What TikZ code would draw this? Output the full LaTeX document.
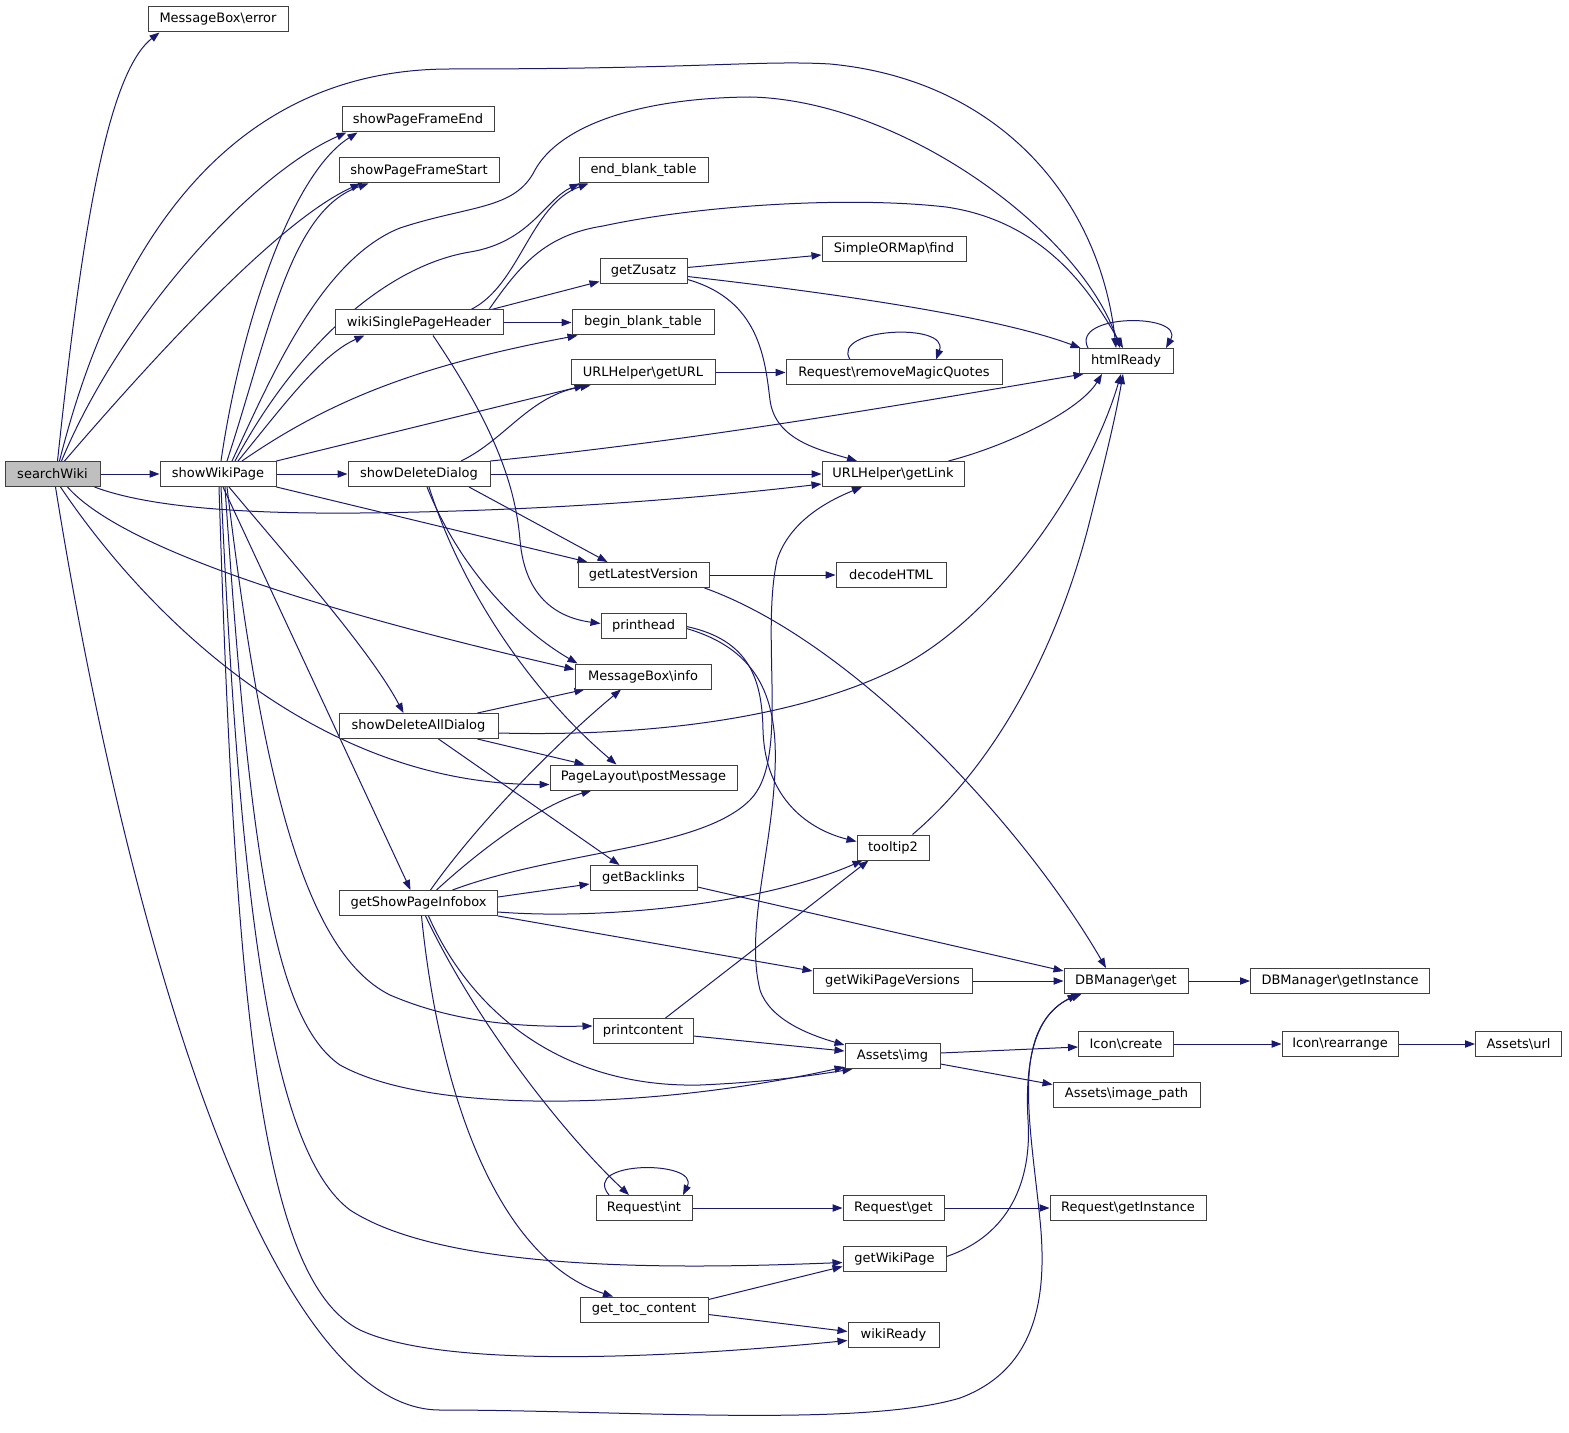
\documentclass[tikz,border=0pt]{standalone}
\usepackage{fontspec}
\setmainfont{DejaVu Sans}
\usetikzlibrary{arrows.meta,calc}
\definecolor{edgec}{HTML}{191970}
\definecolor{boxc}{HTML}{404040}
\definecolor{hlc}{HTML}{BFBFBF}
\pgfdeclarelayer{background}
\pgfsetlayers{background,main}
\begin{document}
\begin{tikzpicture}[x=0.75pt,y=-0.75pt,
  fn/.style={draw=boxc, line width=0.75pt, fill=white, minimum height=18.75pt,
    minimum width=#1*0.75pt, inner sep=0pt, font=\fontsize{9.75}{11.7}\selectfont},
  hl/.style={fill=hlc},
  ed/.style={draw=edgec, line width=0.75pt, -{Triangle[length=7.5pt,width=5.5pt]}}]
\useasboundingbox (0,0) rectangle (1569,1433);
% ---- nodes ----
\node[fn=95,hl] (sw) at (52.5,474) {searchWiki};
\node[fn=140] (mberr) at (218,19.5) {MessageBox\textbackslash error};
\node[fn=116] (swp) at (218,474) {showWikiPage};
\node[fn=152] (pfe) at (418,119.5) {showPageFrameEnd};
\node[fn=160] (pfs) at (419,170.5) {showPageFrameStart};
\node[fn=168] (wsph) at (419,322.5) {wikiSinglePageHeader};
\node[fn=142] (sdd) at (419,474) {showDeleteDialog};
\node[fn=159] (sdad) at (418.5,726) {showDeleteAllDialog};
\node[fn=158] (gspi) at (418.5,903) {getShowPageInfobox};
\node[fn=129] (ebt) at (643.5,170.5) {end\_blank\_table};
\node[fn=87] (gz) at (643.5,271.5) {getZusatz};
\node[fn=142] (bbt) at (643,322.5) {begin\_blank\_table};
\node[fn=144] (ugu) at (643,372.5) {URLHelper\textbackslash getURL};
\node[fn=131] (glv) at (643.5,575) {getLatestVersion};
\node[fn=85] (ph) at (643.5,625.5) {printhead};
\node[fn=136] (mbi) at (643,676.5) {MessageBox\textbackslash info};
\node[fn=187] (plpm) at (643.5,777.5) {PageLayout\textbackslash postMessage};
\node[fn=107] (gbl) at (643.5,878) {getBacklinks};
\node[fn=100] (pc) at (643,1031) {printcontent};
\node[fn=96] (ri) at (644,1208) {Request\textbackslash int};
\node[fn=128] (gtc) at (644,1309.5) {get\_toc\_content};
\node[fn=144] (sof) at (894,249) {SimpleORMap\textbackslash find};
\node[fn=216] (rrmq) at (894,372.5) {Request\textbackslash removeMagicQuotes};
\node[fn=142] (ugl) at (893,474) {URLHelper\textbackslash getLink};
\node[fn=110] (dh) at (891,575) {decodeHTML};
\node[fn=72] (tt2) at (893,847.5) {tooltip2};
\node[fn=159] (gwpv) at (892.5,981) {getWikiPageVersions};
\node[fn=95] (ai) at (892.5,1056) {Assets\textbackslash img};
\node[fn=101] (rg) at (893.5,1208) {Request\textbackslash get};
\node[fn=103] (gwp) at (894.5,1258.5) {getWikiPage};
\node[fn=91] (wr) at (893.5,1334.5) {wikiReady};
\node[fn=94] (hr) at (1126,361) {htmlReady};
\node[fn=124] (dbg) at (1126,981) {DBManager\textbackslash get};
\node[fn=95] (ic) at (1126,1044) {Icon\textbackslash create};
\node[fn=147] (aip) at (1126.5,1094.5) {Assets\textbackslash image\_path};
\node[fn=156] (rgi) at (1128,1208) {Request\textbackslash getInstance};
\node[fn=179] (dbgi) at (1340,981) {DBManager\textbackslash getInstance};
\node[fn=116] (ir) at (1340,1044) {Icon\textbackslash rearrange};
\node[fn=86] (au) at (1518.5,1044) {Assets\textbackslash url};
% ---- edges ----
\begin{pgfonlayer}{background}
% searchWiki
\draw[ed] ($(sw.north)+(5,0)$) .. controls (80,250) and (105,75) .. ($(mberr.south west)+(12,0)$);
\draw[ed] ($(sw.north)+(7,0)$) .. controls (110,260) and (220,69) .. (450,69) .. controls (700,69) and (760,60) .. (830,64) .. controls (1000,80) and (1100,200) .. ($(hr.north)+(-10,0)$);
\draw[ed] ($(sw.north)+(9,0)$) .. controls (120,320) and (250,175) .. ($(pfe.south west)+(5,0)$);
\draw[ed] ($(sw.north)+(12,0)$) .. controls (160,350) and (280,220) .. ($(pfs.south west)+(22,0)$);
\draw[ed] (sw) -- (swp);
\draw[ed] ($(sw.south east)+(-6,0)$) .. controls (150,508) and (250,514) .. (360,513) .. controls (550,511) and (700,498) .. ($(ugl.west)+(0,10)$);
\draw[ed] ($(sw.south)+(15,0)$) .. controls (110,535) and (250,595) .. ($(mbi.west)+(0,-7)$);
\draw[ed] ($(sw.south)+(8,0)$) .. controls (150,620) and (320,785) .. ($(plpm.west)+(0,7)$);
\draw[ed] ($(sw.south)+(3,0)$) .. controls (130,950) and (270,1410) .. (440,1410) .. controls (620,1410) and (860,1428) .. (960,1398) .. controls (1035,1370) and (1048,1300) .. (1040,1220) .. controls (1030,1120) and (1010,1030) .. ($(dbg.south west)+(14,0)$);
% showWikiPage
\draw[ed] ($(swp.north)+(3,0)$) .. controls (240,330) and (290,175) .. ($(pfe.south west)+(16,0)$);
\draw[ed] ($(swp.north)+(9,0)$) .. controls (270,330) and (290,210) .. ($(pfs.south west)+(30,0)$);
\draw[ed] ($(swp.north)+(14,0)$) .. controls (270,380) and (320,260) .. (400,228) .. controls (470,205) and (515,210) .. (535,170) .. controls (560,125) and (640,98) .. (750,97) .. controls (900,100) and (1080,230) .. ($(hr.north)+(-6,0)$);
\draw[ed] ($(swp.north)+(17,0)$) .. controls (300,340) and (390,265) .. (470,252) .. controls (530,242) and (545,200) .. ($(ebt.south west)+(1,0)$);
\draw[ed] ($(swp.north)+(20,0)$) .. controls (280,410) and (320,355) .. ($(wsph.south west)+(30,0)$);
\draw[ed] ($(swp.north)+(24,0)$) .. controls (330,400) and (420,365) .. ($(bbt.south west)+(6,0)$);
\draw[ed] (swp.north east) -- ($(ugu.south west)+(14,0)$);
\draw[ed] (swp) -- (sdd);
\draw[ed] (swp.south east) -- ($(glv.north west)+(10,0)$);
\draw[ed] ($(swp.south)+(11,0)$) .. controls (290,560) and (370,650) .. ($(sdad.north)+(-15,0)$);
\draw[ed] ($(swp.south)+(5,0)$) -- ($(gspi.north)+(-8,0)$);
\draw[ed] ($(swp.south)+(9,0)$) .. controls (260,760) and (300,950) .. (390,995) .. controls (460,1025) and (530,1027) .. ($(pc.west)+(0,-5)$);
\draw[ed] ($(swp.south)+(7,0)$) .. controls (250,860) and (275,1020) .. (340,1065) .. controls (430,1115) and (650,1110) .. ($(ai.south west)+(0,-2)$);
\draw[ed] ($(swp.south)+(3,0)$) .. controls (240,900) and (270,1150) .. (350,1210) .. controls (450,1275) and (700,1268) .. ($(gwp.west)+(0,4)$);
\draw[ed] ($(swp.south)+(1,0)$) .. controls (235,1000) and (260,1280) .. (360,1330) .. controls (450,1372) and (700,1355) .. ($(wr.west)+(0,6)$);
% wikiSinglePageHeader
\draw[ed] ($(wsph.north)+(52,0)$) .. controls (520,285) and (530,205) .. ($(ebt.south west)+(10,0)$);
\draw[ed] ($(wsph.north)+(70,0)$) .. controls (520,265) and (545,235) .. (603,226) .. controls (700,205) and (850,196) .. (946,207) .. controls (1050,222) and (1095,300) .. ($(hr.north)+(-3,0)$);
\draw[ed] ($(wsph.north east)+(-12,0)$) -- ($(gz.south west)+(0,-3)$);
\draw[ed] (wsph) -- (bbt);
\draw[ed] ($(wsph.south)+(14,0)$) .. controls (490,420) and (515,480) .. (520,540) .. controls (525,600) and (560,618) .. ($(ph.west)+(0,-2)$);
% getZusatz
\draw[ed] ($(gz.east)+(0,-4)$) -- ($(sof.west)+(0,6)$);
\draw[ed] ($(gz.east)+(0,5)$) .. controls (850,295) and (1000,318) .. ($(hr.north west)+(2,0)$);
\draw[ed] ($(gz.east)+(0,8)$) .. controls (760,300) and (765,360) .. (770,400) .. controls (775,440) and (820,450) .. ($(ugl.north)+(-36,0)$);
% URL / request
\draw[ed] (ugu) -- (rrmq);
\draw[ed] ($(rrmq.north)+(-44,0)$) .. controls (830,328) and (950,322) .. ($(rrmq.north)+(42,0)$);
\draw[ed] ($(hr.north)+(-38,0)$) .. controls (1070,313) and (1185,313) .. ($(hr.north)+(40,0)$);
% showDeleteDialog
\draw[ed] ($(sdd.north)+(42,0)$) .. controls (505,440) and (530,395) .. ($(ugu.south west)+(20,0)$);
\draw[ed] (sdd.north east) .. controls (700,440) and (900,405) .. ($(hr.south west)+(5,0)$);
\draw[ed] (sdd) -- (ugl);
\draw[ed] ($(sdd.south)+(50,0)$) -- ($(glv.north west)+(30,0)$);
\draw[ed] ($(sdd.south)+(8,0)$) .. controls (460,570) and (520,630) .. ($(mbi.north west)+(3,0)$);
\draw[ed] ($(sdd.south)+(10,0)$) .. controls (465,600) and (540,700) .. ($(plpm.north)+(-27,0)$);
% getLatestVersion
\draw[ed] (glv) -- (dh);
\draw[ed] ($(glv.south east)+(-5,0)$) .. controls (850,640) and (1020,820) .. ($(dbg.north)+(-20,0)$);
% printhead
\draw[ed] ($(ph.east)+(0,1)$) .. controls (750,640) and (762,680) .. (763,730) .. controls (765,800) and (810,830) .. ($(tt2.west)+(0,-6)$);
\draw[ed] ($(ph.east)+(0,3)$) .. controls (760,650) and (778,700) .. (775,770) .. controls (772,850) and (745,930) .. (760,990) .. controls (770,1020) and (810,1035) .. ($(ai.north west)+(0,2)$);
% showDeleteAllDialog
\draw[ed] ($(sdad.north east)+(-21,0)$) -- ($(mbi.south west)+(10,0)$);
\draw[ed] ($(sdad.south east)+(-21,0)$) -- ($(plpm.north west)+(35,0)$);
\draw[ed] ($(sdad.south)+(20,0)$) -- ($(gbl.north west)+(30,0)$);
\draw[ed] ($(sdad.east)+(0,7)$) .. controls (650,737) and (800,718) .. (900,667) .. controls (1000,615) and (1090,480) .. ($(hr.south)+(-5,0)$);
% tooltip2, getLink
\draw[ed] ($(tt2.north east)+(-17,0)$) .. controls (1000,760) and (1060,640) .. (1090,520) .. controls (1105,460) and (1115,420) .. ($(hr.south)+(-3,0)$);
\draw[ed] ($(ugl.north east)+(-16,0)$) .. controls (1010,445) and (1080,410) .. ($(hr.south)+(-24,0)$);
% getShowPageInfobox
\draw[ed] ($(gspi.north)+(12,0)$) .. controls (480,820) and (560,740) .. ($(mbi.south)+(-22,0)$);
\draw[ed] ($(gspi.north)+(18,0)$) .. controls (480,850) and (540,805) .. ($(plpm.south west)+(42,0)$);
\draw[ed] ($(gspi.north)+(34,0)$) .. controls (560,850) and (700,850) .. (750,800) .. controls (790,760) and (760,640) .. (777,560) .. controls (790,520) and (830,500) .. ($(ugl.south)+(-31,0)$);
\draw[ed] ($(gspi.east)+(0,-6)$) -- ($(gbl.west)+(0,6)$);
\draw[ed] ($(gspi.east)+(0,9)$) .. controls (600,920) and (760,905) .. ($(tt2.south west)+(6,0)$);
\draw[ed] (gspi.south east) -- ($(gwpv.west)+(0,-10)$);
\draw[ed] ($(gspi.south)+(10,0)$) .. controls (470,1010) and (560,1088) .. (700,1085) .. controls (770,1082) and (815,1075) .. ($(ai.south west)+(8,0)$);
\draw[ed] ($(gspi.south)+(7,0)$) .. controls (480,1030) and (570,1140) .. ($(ri.north)+(-15,0)$);
\draw[ed] ($(gspi.south)+(3,0)$) .. controls (440,1100) and (500,1260) .. ($(gtc.north)+(-31,0)$);
% rest
\draw[ed] ($(gbl.east)+(0,9)$) -- ($(dbg.west)+(0,-10)$);
\draw[ed] (gwpv) -- (dbg);
\draw[ed] (dbg) -- (dbgi);
\draw[ed] ($(pc.north east)+(-28,0)$) -- ($(tt2.south west)+(12,0)$);
\draw[ed] ($(pc.east)+(0,5)$) -- ($(ai.west)+(0,-5)$);
\draw[ed] ($(ai.east)+(0,-3)$) -- ($(ic.west)+(0,3)$);
\draw[ed] ($(ai.east)+(0,8)$) -- ($(aip.west)+(0,-10)$);
\draw[ed] (ic) -- (ir);
\draw[ed] (ir) -- (au);
\draw[ed] ($(ri.north)+(-35,0)$) .. controls (580,1160) and (700,1160) .. ($(ri.north)+(39,0)$);
\draw[ed] (ri) -- (rg);
\draw[ed] (rg) -- (rgi);
\draw[ed] ($(gwp.east)+(0,-2)$) .. controls (1010,1235) and (1032,1180) .. (1028,1120) .. controls (1024,1050) and (1040,1010) .. ($(dbg.south west)+(18,0)$);
\draw[ed] ($(gtc.east)+(0,-10)$) -- ($(gwp.west)+(0,8)$);
\draw[ed] ($(gtc.east)+(0,5)$) -- ($(wr.west)+(0,-3)$);
\end{pgfonlayer}
\end{tikzpicture}
\end{document}
